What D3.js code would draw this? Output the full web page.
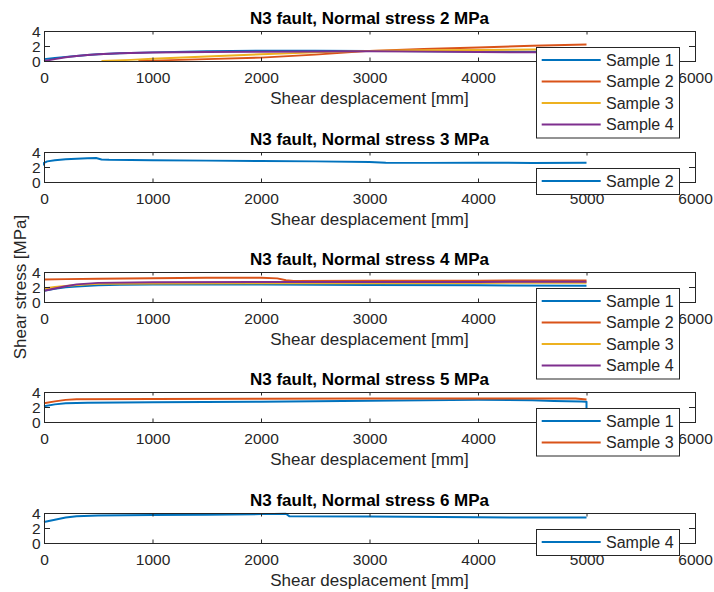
<!DOCTYPE html>
<html><head><meta charset="utf-8">
<script src="https://cdn.jsdelivr.net/npm/d3@7"></script>
<style>html,body{margin:0;padding:0;background:#fff;}svg{display:block;font-family:"Liberation Sans",Arial,sans-serif;}</style>
</head><body><div id="chart"></div>
<script>
// ---------- data ----------
const xTicks = [0, 1000, 2000, 3000, 4000, 5000, 6000];
const yTicks = [0, 2, 4];
const titles = ["N3 fault, Normal stress 2 MPa","N3 fault, Normal stress 3 MPa","N3 fault, Normal stress 4 MPa","N3 fault, Normal stress 5 MPa","N3 fault, Normal stress 6 MPa"];
const xLabel = "Shear desplacement [mm]";
const yLabel = "Shear stress [MPa]";
const colors = ["#0072BD", "#D95319", "#EDB120", "#7E2F8E"];

// Normal stress 2 MPa
const ns2Names = ["Sample 1", "Sample 2", "Sample 3", "Sample 4"];
const ns2S1 = [[0,0.25],[100,0.4],[200,0.55],[300,0.68],[400,0.8],[500,0.9],[700,1.02],[1000,1.15],[1500,1.3],[2000,1.37],[2500,1.38],[3000,1.35],[3500,1.3],[4000,1.26],[4500,1.24],[5000,1.22]];
const ns2S2 = [[870,0.0],[1000,0.05],[1500,0.25],[2000,0.45],[2500,0.85],[3000,1.35],[3500,1.6],[4000,1.8],[4500,2.02],[5000,2.2]];
const ns2S3 = [[530,0.0],[800,0.15],[1000,0.3],[1500,0.6],[2000,0.9],[2500,1.15],[3000,1.35],[3500,1.43],[4000,1.48],[4500,1.52],[5000,1.55]];
const ns2S4 = [[0,0.0],[100,0.25],[200,0.5],[300,0.68],[400,0.8],[500,0.9],[700,1.02],[1000,1.12],[1500,1.2],[2000,1.24],[2500,1.27],[3000,1.3],[3500,1.25],[4000,1.2],[4500,1.16],[5000,1.14]];

// Normal stress 3 MPa
const ns3Names = ["Sample 2"];
const ns3S2 = [[0,2.2],[0,2.55],[30,2.75],[100,2.9],[200,3.02],[300,3.1],[400,3.18],[480,3.2],[530,3.0],[600,2.96],[1000,2.9],[1500,2.85],[2000,2.8],[2500,2.75],[3000,2.68],[3150,2.58],[3500,2.55],[4000,2.56],[4500,2.55],[5000,2.56]];

// Normal stress 4 MPa
const ns4Names = ["Sample 1", "Sample 2", "Sample 3", "Sample 4"];
const ns4S1 = [[0,1.5],[100,1.75],[200,1.95],[300,2.08],[500,2.22],[700,2.3],[1000,2.33],[2000,2.33],[3000,2.28],[4000,2.22],[5000,2.18]];
const ns4S2 = [[0,3.0],[200,3.05],[500,3.1],[1000,3.18],[1500,3.22],[2000,3.22],[2150,3.15],[2230,2.9],[2300,2.8],[3000,2.82],[4000,2.85],[5000,2.88]];
const ns4S3 = [[0,1.8],[100,2.0],[300,2.28],[500,2.42],[1000,2.48],[2000,2.5],[3000,2.5],[4000,2.55],[5000,2.58]];
const ns4S4 = [[0,1.5],[100,1.8],[200,2.1],[300,2.35],[500,2.55],[1000,2.63],[2000,2.68],[3000,2.68],[4000,2.68],[5000,2.7]];

// Normal stress 5 MPa
const ns5Names = ["Sample 1", "Sample 3"];
const ns5S1 = [[0,2.1],[100,2.35],[200,2.5],[400,2.58],[1000,2.63],[2000,2.71],[3000,2.84],[4000,2.95],[4500,2.9],[4700,2.8],[4950,2.72],[5000,2.7],[5000,0.8]];
const ns5S3 = [[0,2.5],[100,2.75],[200,2.95],[300,3.03],[1000,3.08],[2000,3.1],[3000,3.12],[4000,3.14],[4900,3.14],[5000,3.0]];

// Normal stress 6 MPa
const ns6Names = ["Sample 4"];
const ns6S4 = [[0,2.8],[100,3.1],[200,3.4],[300,3.58],[500,3.68],[1000,3.72],[1500,3.78],[2000,3.85],[2230,3.9],[2260,3.58],[3000,3.52],[4000,3.42],[5000,3.4]];

const panels = [
  {title: titles[0], names: ns2Names, series: [ns2S1, ns2S2, ns2S3, ns2S4]},
  {title: titles[1], names: ns3Names, series: [ns3S2]},
  {title: titles[2], names: ns4Names, series: [ns4S1, ns4S2, ns4S3, ns4S4]},
  {title: titles[3], names: ns5Names, series: [ns5S1, ns5S3]},
  {title: titles[4], names: ns6Names, series: [ns6S4]}
];

// ---------- layout ----------
const W = 714, H = 592;
const axLeft = 44, axRight = 695, axH = 30;
const axTops = [31, 152, 272, 392, 513];
const txt = "#262626";
const fmt = d3.format("d");

const svg = d3.select("#chart").append("svg").attr("width", W).attr("height", H);
svg.append("rect").attr("width", W).attr("height", H).attr("fill", "#fff");

const x = d3.scaleLinear().domain([0, 6000]).range([axLeft, axRight]);

panels.forEach((p, i) => {
  const top = axTops[i];
  const y = d3.scaleLinear().domain([0, 4]).range([top + axH, top]);
  const g = svg.append("g");

  // data lines
  const line = d3.line().x(d => x(d[0])).y(d => y(d[1]));
  p.series.forEach((s, k) => {
    g.append("path").attr("d", line(s)).attr("fill", "none")
      .attr("stroke", colors[k]).attr("stroke-width", 2).attr("stroke-linejoin", "round");
  });

  // axes
  const ax = svg.append("g");
  const bottom = ax.append("g").attr("transform", `translate(0,${top + axH})`)
    .call(d3.axisBottom(x).tickValues(xTicks).tickFormat(fmt).tickSizeInner(-3.5).tickSizeOuter(0).tickPadding(10.5));
  const topAx = ax.append("g").attr("transform", `translate(0,${top})`)
    .call(d3.axisTop(x).tickValues(xTicks).tickSizeInner(-3.5).tickSizeOuter(0).tickFormat(""));
  const leftAx = ax.append("g").attr("transform", `translate(${axLeft},0)`)
    .call(d3.axisLeft(y).tickValues(yTicks).tickFormat(fmt).tickSizeInner(-6).tickSizeOuter(0).tickPadding(3.5));
  const rightAx = ax.append("g").attr("transform", `translate(${axRight},0)`)
    .call(d3.axisRight(y).tickValues(yTicks).tickSizeInner(-6).tickSizeOuter(0).tickFormat(""));
  [bottom, topAx, leftAx, rightAx].forEach(a => {
    a.select(".domain").remove();
    a.selectAll(".tick line").attr("stroke", txt).attr("stroke-width", 1);
    a.selectAll(".tick text").attr("fill", txt).attr("font-size", 15.5)
      .attr("font-family", '"Liberation Sans", Arial, sans-serif');
  });
  leftAx.selectAll(".tick text").attr("dy", "0.33em");
  ax.append("rect").attr("x", axLeft + 0.5).attr("y", top + 0.5)
    .attr("width", axRight - axLeft).attr("height", axH)
    .attr("fill", "none").attr("stroke", txt).attr("stroke-width", 1);

  // title
  svg.append("text").attr("x", (axLeft + axRight) / 2).attr("y", top - 7)
    .attr("text-anchor", "middle").attr("font-weight", "bold").attr("font-size", 17)
    .attr("fill", "#000").text(p.title);
  // x label
  svg.append("text").attr("x", (axLeft + axRight) / 2).attr("y", top + axH + 43)
    .attr("text-anchor", "middle").attr("font-size", 17).attr("fill", txt).text(xLabel);

  // legend
  const n = p.names.length;
  const lgTop = top + 16, lgLeft = 536.5, lgRight = 679.5;
  const entryH = 21.5, pad = 2.25;
  const lg = svg.append("g");
  lg.append("rect").attr("x", lgLeft).attr("y", lgTop + 0.5)
    .attr("width", lgRight - lgLeft).attr("height", n * entryH + 2 * pad)
    .attr("fill", "#fff").attr("stroke", txt).attr("stroke-width", 1);
  p.names.forEach((name, k) => {
    const cy = lgTop + pad + entryH * (k + 0.5);
    lg.append("line").attr("x1", 541.7).attr("x2", 600.7).attr("y1", cy).attr("y2", cy)
      .attr("stroke", colors[k]).attr("stroke-width", 2);
    lg.append("text").attr("x", 606).attr("y", cy).attr("dy", "0.36em")
      .attr("font-size", 16).attr("fill", txt).text(name);
  });
});

// y label
svg.append("text").attr("transform", "translate(25.5,287) rotate(-90)")
  .attr("text-anchor", "middle").attr("font-size", 17).attr("fill", txt).text(yLabel);
</script>
</body></html>
